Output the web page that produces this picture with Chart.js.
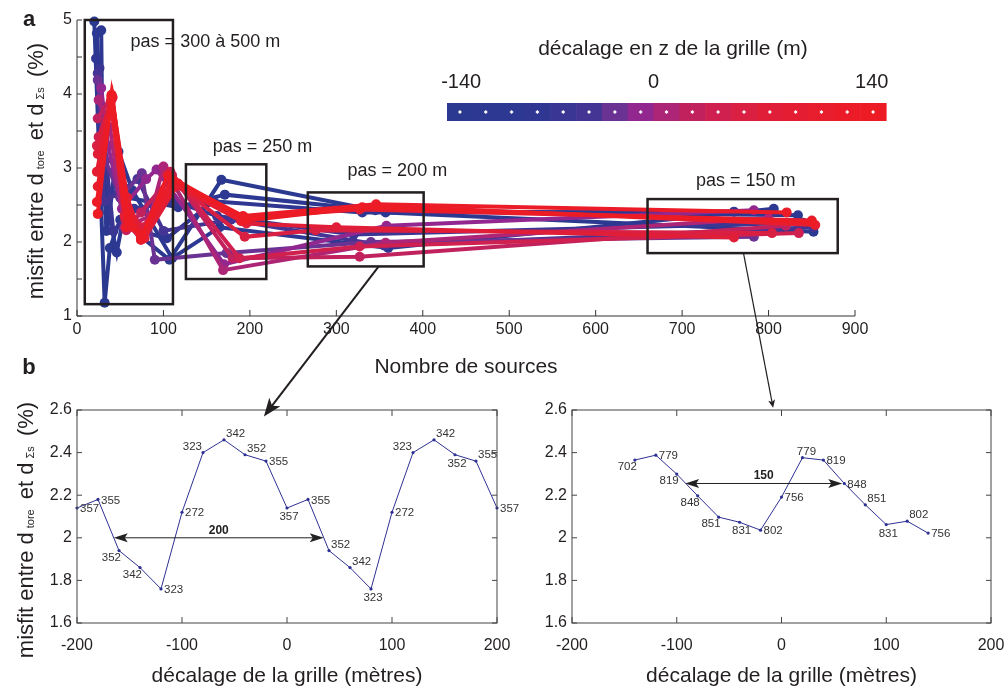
<!DOCTYPE html>
<html>
<head>
<meta charset="utf-8">
<script src="https://cdn.jsdelivr.net/npm/chart.js@4.4.1/dist/chart.umd.min.js"></script>
<style>
  body { margin: 0; background: #fff; }
  #wrap { position: relative; width: 1007px; height: 686px; overflow: hidden; }
  canvas { position: absolute; }
</style>
</head>
<body>
<div id="wrap">
  <canvas id="topChart" width="1007" height="380" style="left:0;top:0;"></canvas>
  <canvas id="leftChart" width="560" height="296" style="left:0;top:390px;"></canvas>
  <canvas id="rightChart" width="520" height="296" style="left:520px;top:390px;"></canvas>
  <canvas id="overlay" width="1007" height="686" style="left:0;top:0;pointer-events:none;"></canvas>
</div>
<script>
// ---- panel a : misfit vs number of sources, one line per z shift of the grid
const zShift = [-140, -122.5, -105, -87.5, -70, -52.5, -35, -17.5, 0, 17.5, 35, 52.5, 70, 87.5, 105, 122.5, 140];
const sourcesA = [
  [20, 32, 38, 50, 107, 167, 357, 852],
  [28, 30, 46, 58, 117, 171, 345, 834],
  [23, 34, 48, 64, 110, 165, 360, 806],
  [22, 36, 44, 55, 104, 158, 330, 760],
  [26, 35, 42, 66, 112, 162, 320, 840],
  [24, 31, 47, 70, 100, 178, 356, 852],
  [24, 33, 50, 75, 90, 173, 340, 783],
  [28, 36, 52, 80, 92, 170, 358, 783],
  [25, 38, 55, 85, 100, 169, 357, 800],
  [24, 40, 57, 74, 110, 180, 327, 820],
  [25, 41, 56, 74, 108, 188, 327, 835],
  [23, 40, 60, 76, 112, 194, 276, 804],
  [24, 39, 55, 78, 115, 196, 300, 760],
  [23, 40, 58, 74, 117, 194, 327, 850],
  [24, 41, 56, 74, 113, 190, 346, 854],
  [23, 40, 57, 76, 110, 192, 346, 821],
  [24, 40, 60, 74, 105, 195, 330, 850]
];
const misfitA = [
  [4.98, 1.18, 1.92, 2.30, 1.76, 2.84, 2.40, 2.14],
  [4.86, 2.75, 1.86, 2.60, 2.47, 2.64, 2.43, 2.36],
  [4.82, 2.15, 3.22, 2.70, 1.78, 2.20, 1.92, 2.45],
  [4.48, 2.40, 2.95, 2.20, 2.05, 2.55, 2.40, 2.41],
  [4.35, 2.95, 2.15, 2.45, 2.55, 2.35, 2.10, 2.26],
  [4.28, 2.55, 2.65, 2.85, 2.15, 2.30, 1.95, 2.20],
  [4.19, 3.10, 2.60, 2.93, 1.76, 1.85, 2.00, 2.07],
  [4.08, 3.30, 2.45, 2.85, 2.98, 1.70, 2.22, 2.43],
  [3.92, 3.55, 2.20, 2.35, 3.02, 1.62, 1.99, 2.32],
  [3.67, 3.97, 2.16, 2.40, 2.90, 1.78, 1.80, 2.22],
  [3.42, 3.95, 2.30, 2.03, 2.95, 1.78, 1.94, 2.12],
  [3.30, 3.93, 2.40, 2.20, 2.80, 2.07, 2.16, 2.12],
  [3.19, 3.90, 2.35, 2.05, 2.75, 2.25, 2.20, 2.06],
  [2.95, 3.98, 2.60, 2.10, 2.79, 2.33, 2.44, 2.29],
  [2.75, 3.96, 2.55, 2.03, 2.80, 2.28, 2.49, 2.23],
  [2.54, 3.95, 2.20, 2.10, 2.85, 2.35, 2.51, 2.40],
  [2.38, 3.99, 2.30, 2.05, 2.90, 2.30, 2.47, 2.27]
];
const colorbarTicks = [-140, 0, 140];

// ---- panel b : misfit vs horizontal shift of the grid
const shift200 = [-200, -180, -160, -140, -120, -100, -80, -60, -40, -20, 0, 20, 40, 60, 80, 100, 120, 140, 160, 180, 200];
const misfit200 = [2.14, 2.18, 1.94, 1.86, 1.76, 2.12, 2.40, 2.46, 2.39, 2.36, 2.14, 2.18, 1.94, 1.86, 1.76, 2.12, 2.40, 2.46, 2.39, 2.36, 2.14];
const sources200 = [357, 355, 352, 342, 323, 272, 323, 342, 352, 355, 357, 355, 352, 342, 323, 272, 323, 342, 352, 355, 357];
const shift150 = [-140, -120, -100, -80, -60, -40, -20, 0, 20, 40, 60, 80, 100, 120, 140];
const misfit150 = [2.365, 2.388, 2.299, 2.197, 2.097, 2.073, 2.036, 2.191, 2.376, 2.365, 2.255, 2.155, 2.062, 2.078, 2.022];
const sources150 = [702, 779, 819, 848, 851, 831, 802, 756, 779, 819, 848, 851, 831, 802, 756];

// colours of the z-shift scale (blue -> purple -> red)
const zColors = ['#2b3990', '#2c3891', '#2d3892', '#2f3792', '#3a3694', '#443595', '#6a3393', '#92278f',
  '#ad2577', '#c1225d', '#cf2050', '#d91f42', '#e01e38', '#e41d32', '#e81d2d', '#eb1c28', '#ed1c24'];

const FONT = "'Liberation Sans', Arial, Helvetica, sans-serif";
const INK = '#231f20';

// annotation boxes of panel a, in data units
const boxes = [
  { x0: 9, x1: 111, y0: 1.16, y1: 5.0, text: 'pas = 300 à 500 m', tx: 62, ty: 4.70 },
  { x0: 126, x1: 219, y0: 1.50, y1: 3.05, text: 'pas = 250 m', tx: 157, ty: 3.29 },
  { x0: 267, x1: 401, y0: 1.67, y1: 2.67, text: 'pas = 200 m', tx: 313, ty: 2.96 },
  { x0: 660, x1: 880, y0: 1.85, y1: 2.58, text: 'pas = 150 m', tx: 716, ty: 2.82 }
];

function inwardTicks(ctx, chart, sides) {
  const a = chart.chartArea, x = chart.scales.x, y = chart.scales.y;
  ctx.beginPath();
  x.ticks.forEach(t => {
    const px = x.getPixelForValue(t.value);
    if (sides.includes('b')) { ctx.moveTo(px, a.bottom); ctx.lineTo(px, a.bottom - 6); }
    if (sides.includes('t')) { ctx.moveTo(px, a.top); ctx.lineTo(px, a.top + 6); }
  });
  y.ticks.forEach(t => {
    const py = y.getPixelForValue(t.value);
    if (sides.includes('l')) { ctx.moveTo(a.left, py); ctx.lineTo(a.left + 5, py); }
    if (sides.includes('r')) { ctx.moveTo(a.right, py); ctx.lineTo(a.right - 5, py); }
  });
  ctx.stroke();
}

const topDecor = {
  id: 'topDecor',
  afterDraw(chart) {
    const { ctx, chartArea: a, scales: { x, y } } = chart;
    ctx.save();
    ctx.strokeStyle = '#333';
    ctx.lineWidth = 1;
    ctx.beginPath();
    ctx.moveTo(a.left, a.top); ctx.lineTo(a.left, a.bottom); ctx.lineTo(a.right, a.bottom);
    ctx.stroke();
    inwardTicks(ctx, chart, 'bl');

    // boxes around each grid spacing
    ctx.strokeStyle = INK;
    ctx.lineWidth = 2.5;
    ctx.fillStyle = INK;
    ctx.font = '18px ' + FONT;
    ctx.textBaseline = 'middle';
    ctx.textAlign = 'left';
    boxes.forEach(b => {
      const l = x.getPixelForValue(b.x0), r = x.getPixelForValue(b.x1);
      const t = y.getPixelForValue(b.y1), bt = y.getPixelForValue(b.y0);
      ctx.strokeRect(l, t, r - l, bt - t);
      ctx.fillText(b.text, x.getPixelForValue(b.tx), y.getPixelForValue(b.ty));
    });

    // colour scale of the z shift
    const cbL = 447, cbR = 886, cbT = 103, cbB = 121;
    const w = (cbR - cbL) / zShift.length;
    zShift.forEach((z, i) => {
      ctx.fillStyle = zColors[i];
      ctx.fillRect(cbL + i * w, cbT, w + 0.6, cbB - cbT);
      const cx = cbL + (i + 0.5) * w, cy = (cbT + cbB) / 2;
      ctx.fillStyle = '#fff';
      ctx.beginPath();
      ctx.moveTo(cx, cy - 2); ctx.lineTo(cx + 2, cy); ctx.lineTo(cx, cy + 2); ctx.lineTo(cx - 2, cy);
      ctx.fill();
    });
    ctx.fillStyle = INK;
    ctx.textAlign = 'center';
    ctx.textBaseline = 'alphabetic';
    ctx.font = '21px ' + FONT;
    ctx.fillText('décalage en z de la grille (m)', 673, 55);
    ctx.font = '20px ' + FONT;
    const cellAt = [0.55, 8, 16.45];
    colorbarTicks.forEach((v, k) => ctx.fillText(String(v), cbL + cellAt[k] * w, 88));

    ctx.font = '21px ' + FONT;
    ctx.fillText('Nombre de sources', (a.left + a.right) / 2, 373);
    ctx.restore();
  }
};

const panelDecor = {
  id: 'panelDecor',
  afterDraw(chart, args, opts) {
    const { ctx, chartArea: a, scales: { x, y } } = chart;
    ctx.save();
    ctx.strokeStyle = '#444';
    ctx.lineWidth = 1;
    ctx.strokeRect(a.left, a.top, a.right - a.left, a.bottom - a.top);
    inwardTicks(ctx, chart, 'tblr');

    // number of sources next to each point
    ctx.fillStyle = '#333';
    ctx.font = '11.5px ' + FONT;
    ctx.textBaseline = 'middle';
    const meta = chart.getDatasetMeta(0);
    meta.data.forEach((pt, k) => {
      const code = opts.anchors[k];
      let dx = 3, dy = 1, align = 'left';
      if (code === 'bl') { align = 'right'; dx = 2; dy = 7; }
      if (code === 'tl') { align = 'right'; dx = -1; dy = -6; }
      if (code === 'tr') { dx = 2; dy = -6; }
      if (code === 'b') { align = 'center'; dx = 2; dy = 9; }
      if (code === 't') { align = 'center'; dx = 4; dy = -6; }
      ctx.textAlign = align;
      ctx.fillText(String(opts.labels[k]), pt.x + dx, pt.y + dy);
    });

    // double arrow showing the period
    const ar = opts.arrow;
    const x0 = x.getPixelForValue(ar.x0), x1 = x.getPixelForValue(ar.x1), py = y.getPixelForValue(ar.y);
    ctx.strokeStyle = '#222';
    ctx.fillStyle = '#222';
    ctx.beginPath(); ctx.moveTo(x0 + 8, py); ctx.lineTo(x1 - 8, py); ctx.stroke();
    [[x0, 1], [x1, -1]].forEach(([tx, s]) => {
      ctx.beginPath();
      ctx.moveTo(tx, py);
      ctx.lineTo(tx + s * 14, py - 4.5);
      ctx.lineTo(tx + s * 11, py);
      ctx.lineTo(tx + s * 14, py + 4.5);
      ctx.closePath(); ctx.fill();
    });
    ctx.font = 'bold 12px ' + FONT;
    ctx.textAlign = 'center';
    ctx.textBaseline = 'alphabetic';
    ctx.fillText(ar.text, (x0 + x1) / 2, py - 4);

    ctx.fillStyle = INK;
    ctx.font = '21px ' + FONT;
    ctx.fillText('décalage de la grille (mètres)', (a.left + a.right) / 2, 292);
    ctx.restore();
  }
};

const tickFont = { family: FONT, size: 16 };

const topChart = new Chart(document.getElementById('topChart'), {
  type: 'scatter',
  data: {
    datasets: zShift.map((z, i) => ({
      label: 'z = ' + z + ' m',
      data: sourcesA[i].map((n, k) => ({ x: n, y: misfitA[i][k] })),
      borderColor: zColors[i],
      backgroundColor: zColors[i],
      borderWidth: 4,
      pointRadius: 5,
      pointBorderWidth: 0,
      showLine: true,
      clip: false,
      order: zShift.length - i
    }))
  },
  options: {
    responsive: false,
    animation: false,
    layout: { padding: { left: 0, right: 152, top: 20, bottom: 0 } },
    plugins: { legend: { display: false }, tooltip: { enabled: false } },
    scales: {
      x: {
        type: 'linear', min: 0, max: 900,
        grid: { display: false, drawTicks: false }, border: { display: false },
        ticks: { stepSize: 100, font: tickFont, color: INK, padding: 4, maxRotation: 0 },
        afterFit: s => { s.height = 64; }
      },
      y: {
        min: 1, max: 5,
        grid: { display: false, drawTicks: false }, border: { display: false },
        ticks: { stepSize: 0.5, font: tickFont, color: INK, padding: 5,
          callback: v => (v % 1 === 0 ? String(v) : '') },
        afterFit: s => { s.width = 77; }
      }
    }
  },
  plugins: [topDecor]
});

function panelChart(id, xs, ys, labels, anchors, arrow, yWidth, padRight) {
  return new Chart(document.getElementById(id), {
    type: 'scatter',
    data: {
      datasets: [{
        data: xs.map((s, k) => ({ x: s, y: ys[k] })),
        borderColor: '#2e3192',
        backgroundColor: '#2e3192',
        borderWidth: 1,
        pointRadius: 1.6,
        pointBorderWidth: 0,
        showLine: true,
        clip: false
      }]
    },
    options: {
      responsive: false,
      animation: false,
      layout: { padding: { left: 0, right: padRight, top: 20, bottom: 0 } },
      plugins: {
        legend: { display: false }, tooltip: { enabled: false },
        panelDecor: { labels: labels, anchors: anchors, arrow: arrow }
      },
      scales: {
        x: {
          type: 'linear', min: -200, max: 200,
          grid: { display: false, drawTicks: false }, border: { display: false },
          ticks: { stepSize: 100, font: tickFont, color: INK, padding: 13, maxRotation: 0 },
          afterFit: s => { s.height = 63; }
        },
        y: {
          min: 1.6, max: 2.6,
          grid: { display: false, drawTicks: false }, border: { display: false },
          ticks: { stepSize: 0.2, font: tickFont, color: INK, padding: 5,
            callback: v => String(+v.toFixed(1)) },
          afterFit: s => { s.width = yWidth; }
        }
      }
    },
    plugins: [panelDecor]
  });
}

const anchor200 = ['r', 'r', 'bl', 'bl', 'r', 'r', 'tl', 'tr', 'tr', 'r', 'b', 'r', 'tr', 'tr', 'b', 'r', 'tl', 'tr', 'b', 'tr', 'r'];
const anchor150 = ['bl', 'r', 'bl', 'bl', 'bl', 'b', 'r', 'r', 't', 'r', 'r', 'tr', 'b', 'tr', 'r'];

const leftChart = panelChart('leftChart', shift200, misfit200, sources200, anchor200,
  { x0: -165, x1: 35, y: 2.0, text: '200' }, 77, 63);
const rightChart = panelChart('rightChart', shift150, misfit150, sources150, anchor150,
  { x0: -92, x1: 58, y: 2.255, text: '150' }, 52, 49);

// ---- overlay: panel letters, y titles and the links between panels
const ov = document.getElementById('overlay').getContext('2d');

function yTitle(ctx, baseX, cy) {
  const parts = [['misfit entre d', 0], ['tore', 1], [' et d', 0], ['Σs', 1], [' (%)', 0]];
  ctx.save();
  ctx.translate(baseX, cy);
  ctx.rotate(-Math.PI / 2);
  ctx.fillStyle = INK;
  ctx.textBaseline = 'alphabetic';
  ctx.textAlign = 'left';
  const fontOf = sub => (sub ? '11px ' : '22px ') + FONT;
  let total = 0;
  parts.forEach(([t, sub]) => { ctx.font = fontOf(sub); total += ctx.measureText(t).width + (sub ? 8 : 0); });
  let cx = -total / 2;
  parts.forEach(([t, sub]) => {
    ctx.font = fontOf(sub);
    if (sub) cx += 4;
    ctx.fillText(t, cx, sub ? 1 : 0);
    cx += ctx.measureText(t).width + (sub ? 4 : 0);
  });
  ctx.restore();
}

function link(ctx, x0, y0, x1, y1, width, len, half) {
  const ang = Math.atan2(y1 - y0, x1 - x0);
  const c = Math.cos(ang), s = Math.sin(ang);
  ctx.lineWidth = width;
  ctx.beginPath();
  ctx.moveTo(x0, y0);
  ctx.lineTo(x1 - c * len * 0.7, y1 - s * len * 0.7);
  ctx.stroke();
  ctx.beginPath();
  ctx.moveTo(x1, y1);
  ctx.lineTo(x1 - c * len + s * half, y1 - s * len - c * half);
  ctx.lineTo(x1 - c * len * 0.75, y1 - s * len * 0.75);
  ctx.lineTo(x1 - c * len - s * half, y1 - s * len + c * half);
  ctx.closePath();
  ctx.fill();
}

ov.fillStyle = INK;
ov.strokeStyle = INK;
ov.font = 'bold 22px ' + FONT;
ov.textAlign = 'center';
ov.textBaseline = 'middle';
ov.fillText('a', 29, 20);
ov.fillText('b', 29, 368);
yTitle(ov, 43, 171);
yTitle(ov, 33, 530);

const tx = topChart.scales.x, ty = topChart.scales.y;
link(ov, tx.getPixelForValue(349), ty.getPixelForValue(1.67),
  leftChart.scales.x.getPixelForValue(-22), 390 + leftChart.scales.y.getPixelForValue(2.57), 2, 18, 7);
link(ov, tx.getPixelForValue(771), ty.getPixelForValue(1.85),
  520 + rightChart.scales.x.getPixelForValue(-8), 390 + rightChart.scales.y.getPixelForValue(2.61), 1.2, 8, 3.5);
</script>
</body>
</html>
